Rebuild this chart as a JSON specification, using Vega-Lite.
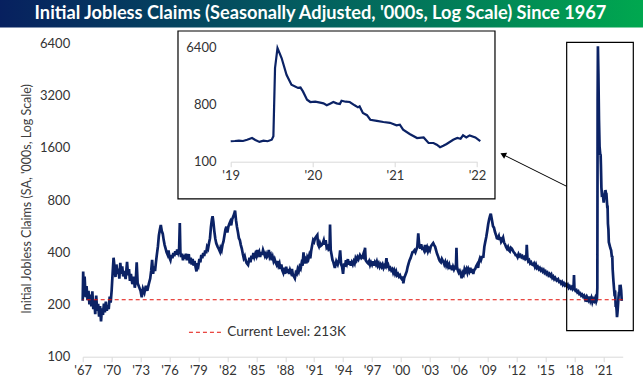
{
 "$schema": "https://vega.github.io/schema/vega-lite/v6.json",
 "width": 540,
 "height": 313.3,
 "autosize": {"type": "none"},
 "padding": {"left": 82.7, "top": 43.4, "right": 20.3, "bottom": 27.3},
 "background": "#ffffff",
 "config": {
  "view": {"stroke": null},
  "font": "Lato",
  "axis": {"grid": false, "labelFont": "Lato", "titleFont": "Lato", "labelFontSize": 13, "labelColor": "#333333", "labelFlush": false, "labelOverlap": false}
 },
 "datasets": {
  "main": [
{"t":1967.0,"v":210},{"t":1967.05,"v":310},{"t":1967.12,"v":235},{"t":1967.2,"v":290},{"t":1967.3,"v":220},{"t":1967.4,"v":255},{"t":1967.5,"v":212},{"t":1967.6,"v":240},{"t":1967.7,"v":200},{"t":1967.8,"v":228},{"t":1967.9,"v":195},
{"t":1968.0,"v":238},{"t":1968.1,"v":188},{"t":1968.2,"v":212},{"t":1968.3,"v":176},{"t":1968.4,"v":225},{"t":1968.5,"v":184},{"t":1968.6,"v":202},{"t":1968.7,"v":170},{"t":1968.8,"v":196},{"t":1968.9,"v":160},
{"t":1969.0,"v":190},{"t":1969.1,"v":174},{"t":1969.2,"v":202},{"t":1969.3,"v":180},{"t":1969.4,"v":208},{"t":1969.5,"v":184},{"t":1969.6,"v":198},{"t":1969.7,"v":188},{"t":1969.8,"v":222},{"t":1969.9,"v":205},
{"t":1970.0,"v":240},{"t":1970.1,"v":300},{"t":1970.2,"v":372},{"t":1970.3,"v":330},{"t":1970.4,"v":288},{"t":1970.5,"v":340},{"t":1970.6,"v":300},{"t":1970.7,"v":322},{"t":1970.8,"v":282},{"t":1970.9,"v":348},
{"t":1971.0,"v":300},{"t":1971.1,"v":332},{"t":1971.2,"v":290},{"t":1971.3,"v":312},{"t":1971.45,"v":280},{"t":1971.6,"v":352},{"t":1971.7,"v":295},{"t":1971.8,"v":320},{"t":1971.9,"v":274},
{"t":1972.0,"v":300},{"t":1972.15,"v":262},{"t":1972.3,"v":290},{"t":1972.4,"v":250},{"t":1972.5,"v":272},{"t":1972.6,"v":350},{"t":1972.7,"v":265},{"t":1972.85,"v":252},
{"t":1973.0,"v":240},{"t":1973.12,"v":220},{"t":1973.25,"v":246},{"t":1973.4,"v":234},{"t":1973.55,"v":256},{"t":1973.7,"v":240},{"t":1973.85,"v":262},
{"t":1974.0,"v":282},{"t":1974.1,"v":312},{"t":1974.2,"v":362},{"t":1974.3,"v":300},{"t":1974.4,"v":332},{"t":1974.5,"v":312},{"t":1974.6,"v":352},{"t":1974.7,"v":392},{"t":1974.8,"v":432},{"t":1974.9,"v":500},
{"t":1975.0,"v":540},{"t":1975.1,"v":575},{"t":1975.2,"v":530},{"t":1975.3,"v":512},{"t":1975.4,"v":470},{"t":1975.5,"v":440},{"t":1975.6,"v":420},{"t":1975.7,"v":400},{"t":1975.8,"v":388},{"t":1975.9,"v":410},
{"t":1976.0,"v":372},{"t":1976.1,"v":360},{"t":1976.2,"v":386},{"t":1976.3,"v":370},{"t":1976.4,"v":396},{"t":1976.5,"v":380},{"t":1976.6,"v":405},{"t":1976.7,"v":388},{"t":1976.8,"v":415},{"t":1976.9,"v":398},
{"t":1977.0,"v":420},{"t":1977.07,"v":590},{"t":1977.13,"v":400},{"t":1977.2,"v":375},{"t":1977.3,"v":392},{"t":1977.4,"v":360},{"t":1977.5,"v":386},{"t":1977.6,"v":368},{"t":1977.7,"v":392},{"t":1977.8,"v":360},{"t":1977.9,"v":376},
{"t":1978.0,"v":390},{"t":1978.1,"v":345},{"t":1978.2,"v":372},{"t":1978.3,"v":340},{"t":1978.4,"v":366},{"t":1978.5,"v":335},{"t":1978.6,"v":356},{"t":1978.7,"v":330},{"t":1978.8,"v":310},{"t":1978.9,"v":346},
{"t":1979.0,"v":335},{"t":1979.1,"v":366},{"t":1979.2,"v":350},{"t":1979.3,"v":386},{"t":1979.4,"v":370},{"t":1979.5,"v":396},{"t":1979.6,"v":380},{"t":1979.7,"v":410},{"t":1979.8,"v":395},{"t":1979.9,"v":430},
{"t":1980.0,"v":420},{"t":1980.1,"v":452},{"t":1980.2,"v":482},{"t":1980.3,"v":560},{"t":1980.4,"v":620},{"t":1980.47,"v":645},{"t":1980.55,"v":600},{"t":1980.65,"v":530},{"t":1980.75,"v":480},{"t":1980.85,"v":450},
{"t":1981.0,"v":430},{"t":1981.1,"v":420},{"t":1981.24,"v":403},{"t":1981.3,"v":422},{"t":1981.4,"v":410},{"t":1981.5,"v":442},{"t":1981.6,"v":462},{"t":1981.7,"v":500},{"t":1981.8,"v":540},{"t":1981.9,"v":562},
{"t":1982.0,"v":520},{"t":1982.1,"v":560},{"t":1982.2,"v":582},{"t":1982.3,"v":600},{"t":1982.4,"v":572},{"t":1982.5,"v":620},{"t":1982.6,"v":640},{"t":1982.7,"v":662},{"t":1982.8,"v":695},{"t":1982.9,"v":612},
{"t":1983.0,"v":560},{"t":1983.1,"v":522},{"t":1983.2,"v":482},{"t":1983.3,"v":470},{"t":1983.4,"v":440},{"t":1983.5,"v":420},{"t":1983.6,"v":392},{"t":1983.7,"v":370},{"t":1983.8,"v":380},{"t":1983.9,"v":360},
{"t":1984.0,"v":346},{"t":1984.15,"v":338},{"t":1984.3,"v":372},{"t":1984.4,"v":350},{"t":1984.5,"v":382},{"t":1984.6,"v":366},{"t":1984.7,"v":396},{"t":1984.8,"v":376},{"t":1984.9,"v":392},
{"t":1985.0,"v":380},{"t":1985.1,"v":412},{"t":1985.2,"v":390},{"t":1985.3,"v":402},{"t":1985.4,"v":376},{"t":1985.5,"v":402},{"t":1985.6,"v":386},{"t":1985.7,"v":412},{"t":1985.8,"v":396},{"t":1985.9,"v":380},
{"t":1986.0,"v":392},{"t":1986.1,"v":375},{"t":1986.2,"v":382},{"t":1986.3,"v":412},{"t":1986.4,"v":376},{"t":1986.5,"v":386},{"t":1986.6,"v":360},{"t":1986.7,"v":376},{"t":1986.8,"v":355},{"t":1986.9,"v":366},
{"t":1987.0,"v":350},{"t":1987.1,"v":340},{"t":1987.2,"v":356},{"t":1987.3,"v":335},{"t":1987.4,"v":346},{"t":1987.5,"v":320},{"t":1987.6,"v":340},{"t":1987.7,"v":315},{"t":1987.8,"v":305},{"t":1987.9,"v":326},
{"t":1988.0,"v":300},{"t":1988.1,"v":330},{"t":1988.2,"v":305},{"t":1988.3,"v":320},{"t":1988.4,"v":300},{"t":1988.5,"v":316},{"t":1988.6,"v":305},{"t":1988.7,"v":320},{"t":1988.8,"v":295},{"t":1988.9,"v":290},
{"t":1989.0,"v":283},{"t":1989.1,"v":305},{"t":1989.2,"v":300},{"t":1989.3,"v":320},{"t":1989.4,"v":310},{"t":1989.5,"v":330},{"t":1989.6,"v":322},{"t":1989.7,"v":345},{"t":1989.8,"v":335},{"t":1989.9,"v":400},{"t":1989.97,"v":345},
{"t":1990.1,"v":362},{"t":1990.2,"v":345},{"t":1990.3,"v":375},{"t":1990.4,"v":365},{"t":1990.5,"v":385},{"t":1990.6,"v":369},{"t":1990.7,"v":410},{"t":1990.8,"v":440},{"t":1990.9,"v":470},
{"t":1991.0,"v":460},{"t":1991.1,"v":482},{"t":1991.2,"v":492},{"t":1991.33,"v":503},{"t":1991.4,"v":445},{"t":1991.5,"v":432},{"t":1991.6,"v":452},{"t":1991.7,"v":436},{"t":1991.8,"v":441},{"t":1991.9,"v":452},
{"t":1992.0,"v":470},{"t":1992.1,"v":442},{"t":1992.2,"v":470},{"t":1992.3,"v":425},{"t":1992.4,"v":432},{"t":1992.5,"v":415},{"t":1992.6,"v":420},{"t":1992.65,"v":578},{"t":1992.72,"v":412},{"t":1992.8,"v":390},{"t":1992.9,"v":362},
{"t":1993.0,"v":350},{"t":1993.15,"v":325},{"t":1993.3,"v":355},{"t":1993.45,"v":340},{"t":1993.6,"v":365},{"t":1993.7,"v":410},{"t":1993.8,"v":340},{"t":1993.9,"v":330},
{"t":1994.0,"v":300},{"t":1994.1,"v":345},{"t":1994.2,"v":330},{"t":1994.3,"v":360},{"t":1994.4,"v":345},{"t":1994.5,"v":365},{"t":1994.6,"v":340},{"t":1994.7,"v":355},{"t":1994.8,"v":335},{"t":1994.9,"v":350},
{"t":1995.0,"v":340},{"t":1995.1,"v":355},{"t":1995.2,"v":345},{"t":1995.3,"v":370},{"t":1995.4,"v":360},{"t":1995.5,"v":375},{"t":1995.6,"v":365},{"t":1995.75,"v":385},{"t":1995.9,"v":370},
{"t":1996.0,"v":375},{"t":1996.1,"v":390},{"t":1996.2,"v":365},{"t":1996.28,"v":425},{"t":1996.35,"v":360},{"t":1996.5,"v":350},{"t":1996.6,"v":345},{"t":1996.7,"v":355},{"t":1996.8,"v":338},{"t":1996.9,"v":350},
{"t":1997.0,"v":340},{"t":1997.1,"v":355},{"t":1997.2,"v":335},{"t":1997.3,"v":350},{"t":1997.4,"v":340},{"t":1997.5,"v":353},{"t":1997.6,"v":335},{"t":1997.7,"v":345},{"t":1997.8,"v":330},{"t":1997.9,"v":340},
{"t":1998.0,"v":330},{"t":1998.1,"v":340},{"t":1998.2,"v":325},{"t":1998.3,"v":335},{"t":1998.4,"v":330},{"t":1998.5,"v":370},{"t":1998.6,"v":325},{"t":1998.7,"v":335},{"t":1998.8,"v":320},{"t":1998.9,"v":325},
{"t":1999.0,"v":315},{"t":1999.1,"v":320},{"t":1999.2,"v":305},{"t":1999.3,"v":315},{"t":1999.4,"v":300},{"t":1999.5,"v":310},{"t":1999.6,"v":295},{"t":1999.7,"v":300},{"t":1999.8,"v":290},{"t":1999.9,"v":295},
{"t":2000.0,"v":285},{"t":2000.1,"v":280},{"t":2000.2,"v":290},{"t":2000.25,"v":265},{"t":2000.35,"v":285},{"t":2000.5,"v":300},{"t":2000.6,"v":310},{"t":2000.7,"v":330},{"t":2000.8,"v":345},{"t":2000.9,"v":360},
{"t":2001.0,"v":370},{"t":2001.1,"v":385},{"t":2001.2,"v":400},{"t":2001.3,"v":403},{"t":2001.4,"v":410},{"t":2001.5,"v":400},{"t":2001.6,"v":415},{"t":2001.7,"v":430},{"t":2001.8,"v":515},{"t":2001.88,"v":450},
{"t":2002.0,"v":420},{"t":2002.1,"v":445},{"t":2002.2,"v":420},{"t":2002.3,"v":422},{"t":2002.4,"v":410},{"t":2002.5,"v":440},{"t":2002.6,"v":415},{"t":2002.7,"v":428},{"t":2002.8,"v":405},{"t":2002.9,"v":420},
{"t":2003.0,"v":410},{"t":2003.1,"v":432},{"t":2003.2,"v":440},{"t":2003.35,"v":452},{"t":2003.45,"v":440},{"t":2003.55,"v":430},{"t":2003.65,"v":410},{"t":2003.75,"v":392},{"t":2003.85,"v":380},{"t":2003.95,"v":365},
{"t":2004.05,"v":355},{"t":2004.15,"v":350},{"t":2004.25,"v":366},{"t":2004.4,"v":353},{"t":2004.5,"v":340},{"t":2004.6,"v":352},{"t":2004.7,"v":335},{"t":2004.8,"v":346},{"t":2004.9,"v":330},
{"t":2005.0,"v":340},{"t":2005.1,"v":320},{"t":2005.2,"v":335},{"t":2005.3,"v":315},{"t":2005.4,"v":330},{"t":2005.5,"v":318},{"t":2005.6,"v":328},{"t":2005.7,"v":318},{"t":2005.76,"v":425},{"t":2005.82,"v":330},{"t":2005.9,"v":315},
{"t":2006.0,"v":305},{"t":2006.1,"v":312},{"t":2006.2,"v":300},{"t":2006.3,"v":283},{"t":2006.4,"v":305},{"t":2006.5,"v":298},{"t":2006.6,"v":320},{"t":2006.7,"v":310},{"t":2006.8,"v":320},{"t":2006.9,"v":305},
{"t":2007.0,"v":320},{"t":2007.1,"v":310},{"t":2007.2,"v":326},{"t":2007.3,"v":305},{"t":2007.4,"v":320},{"t":2007.5,"v":300},{"t":2007.6,"v":316},{"t":2007.7,"v":320},{"t":2007.8,"v":332},{"t":2007.9,"v":340},
{"t":2008.0,"v":325},{"t":2008.1,"v":355},{"t":2008.2,"v":370},{"t":2008.3,"v":360},{"t":2008.4,"v":376},{"t":2008.55,"v":377},{"t":2008.65,"v":430},{"t":2008.75,"v":460},{"t":2008.85,"v":490},{"t":2008.95,"v":530},
{"t":2009.05,"v":580},{"t":2009.15,"v":620},{"t":2009.25,"v":650},{"t":2009.32,"v":668},{"t":2009.4,"v":630},{"t":2009.47,"v":600},{"t":2009.55,"v":565},{"t":2009.65,"v":555},{"t":2009.75,"v":525},{"t":2009.85,"v":505},{"t":2009.95,"v":482},
{"t":2010.05,"v":480},{"t":2010.15,"v":495},{"t":2010.22,"v":470},{"t":2010.3,"v":490},{"t":2010.4,"v":460},{"t":2010.5,"v":470},{"t":2010.6,"v":485},{"t":2010.7,"v":455},{"t":2010.8,"v":445},{"t":2010.9,"v":430},
{"t":2011.0,"v":420},{"t":2011.1,"v":430},{"t":2011.2,"v":410},{"t":2011.3,"v":405},{"t":2011.4,"v":425},{"t":2011.5,"v":420},{"t":2011.6,"v":410},{"t":2011.7,"v":400},{"t":2011.8,"v":395},{"t":2011.9,"v":385},
{"t":2012.0,"v":385},{"t":2012.1,"v":375},{"t":2012.2,"v":390},{"t":2012.3,"v":380},{"t":2012.4,"v":385},{"t":2012.5,"v":375},{"t":2012.6,"v":380},{"t":2012.7,"v":370},{"t":2012.8,"v":375},{"t":2012.9,"v":365},
{"t":2013.0,"v":370},{"t":2013.05,"v":441},{"t":2013.12,"v":370},{"t":2013.2,"v":355},{"t":2013.3,"v":360},{"t":2013.4,"v":345},{"t":2013.5,"v":350},{"t":2013.6,"v":340},{"t":2013.7,"v":338},{"t":2013.8,"v":345},{"t":2013.9,"v":330},
{"t":2014.0,"v":340},{"t":2014.1,"v":325},{"t":2014.2,"v":330},{"t":2014.3,"v":320},{"t":2014.4,"v":325},{"t":2014.5,"v":315},{"t":2014.6,"v":320},{"t":2014.7,"v":310},{"t":2014.8,"v":316},{"t":2014.9,"v":305},
{"t":2015.0,"v":310},{"t":2015.1,"v":300},{"t":2015.2,"v":305},{"t":2015.3,"v":295},{"t":2015.4,"v":300},{"t":2015.5,"v":292},{"t":2015.6,"v":298},{"t":2015.7,"v":285},{"t":2015.8,"v":290},{"t":2015.9,"v":280},
{"t":2016.0,"v":285},{"t":2016.15,"v":275},{"t":2016.3,"v":280},{"t":2016.4,"v":270},{"t":2016.5,"v":272},{"t":2016.6,"v":265},{"t":2016.7,"v":270},{"t":2016.8,"v":260},{"t":2016.9,"v":265},
{"t":2017.0,"v":258},{"t":2017.1,"v":262},{"t":2017.2,"v":255},{"t":2017.3,"v":260},{"t":2017.4,"v":250},{"t":2017.5,"v":255},{"t":2017.6,"v":248},{"t":2017.7,"v":252},{"t":2017.8,"v":245},{"t":2017.9,"v":250},{"t":2017.95,"v":296},
{"t":2018.0,"v":245},{"t":2018.1,"v":240},{"t":2018.2,"v":242},{"t":2018.3,"v":235},{"t":2018.4,"v":238},{"t":2018.5,"v":230},{"t":2018.6,"v":232},{"t":2018.7,"v":225},{"t":2018.8,"v":228},{"t":2018.9,"v":222},
{"t":2019.0,"v":225},{"t":2019.1,"v":215},{"t":2019.2,"v":220},{"t":2019.27,"v":207},{"t":2019.35,"v":218},{"t":2019.45,"v":212},{"t":2019.55,"v":222},{"t":2019.65,"v":210},{"t":2019.75,"v":218},{"t":2019.85,"v":206},{"t":2019.95,"v":215},
{"t":2020.05,"v":210},{"t":2020.15,"v":218},{"t":2020.25,"v":208},{"t":2020.33,"v":215},{"t":2020.37,"v":250},{"t":2020.40,"v":2990},{"t":2020.43,"v":6170},{"t":2020.48,"v":4290},{"t":2020.54,"v":2340},{"t":2020.60,"v":1630},
{"t":2020.68,"v":1450},{"t":2020.71,"v":1470},{"t":2020.74,"v":1280},{"t":2020.79,"v":947},{"t":2020.83,"v":871},{"t":2020.89,"v":880},{"t":2020.95,"v":850},
{"t":2021.03,"v":773},{"t":2021.07,"v":820},{"t":2021.11,"v":871},{"t":2021.19,"v":810},{"t":2021.21,"v":913},{"t":2021.26,"v":880},{"t":2021.31,"v":871},{"t":2021.37,"v":773},{"t":2021.41,"v":718},{"t":2021.43,"v":743},{"t":2021.47,"v":584},
{"t":2021.52,"v":540},{"t":2021.56,"v":458},{"t":2021.64,"v":440},{"t":2021.72,"v":422},{"t":2021.80,"v":410},{"t":2021.88,"v":374},{"t":2021.92,"v":382},{"t":2021.96,"v":319},
{"t":2022.04,"v":273},{"t":2022.13,"v":236},{"t":2022.21,"v":241},{"t":2022.27,"v":197},{"t":2022.33,"v":197},{"t":2022.37,"v":185},{"t":2022.41,"v":169},{"t":2022.45,"v":178},{"t":2022.49,"v":190},
{"t":2022.57,"v":222},{"t":2022.62,"v":236},{"t":2022.66,"v":230},{"t":2022.69,"v":260},{"t":2022.73,"v":241},{"t":2022.77,"v":260},{"t":2022.84,"v":241},{"t":2022.90,"v":210}
  ],
  "inset": [
{"t":2019.0,"v":210},{"t":2019.05,"v":212},{"t":2019.1,"v":215},{"t":2019.15,"v":212},{"t":2019.2,"v":222},{"t":2019.26,"v":236},{"t":2019.3,"v":220},{"t":2019.35,"v":205},{"t":2019.4,"v":215},{"t":2019.45,"v":210},{"t":2019.5,"v":222},{"t":2019.52,"v":251},
{"t":2019.54,"v":2990},{"t":2019.57,"v":6170},{"t":2019.62,"v":4290},{"t":2019.68,"v":2340},{"t":2019.74,"v":1630},{"t":2019.82,"v":1450},{"t":2019.85,"v":1470},{"t":2019.88,"v":1280},{"t":2019.93,"v":947},{"t":2019.97,"v":871},
{"t":2020.03,"v":880},{"t":2020.09,"v":850},{"t":2020.13,"v":830},{"t":2020.17,"v":773},{"t":2020.21,"v":820},{"t":2020.25,"v":871},{"t":2020.29,"v":830},{"t":2020.33,"v":810},{"t":2020.35,"v":913},{"t":2020.4,"v":880},{"t":2020.45,"v":871},
{"t":2020.51,"v":773},{"t":2020.55,"v":718},{"t":2020.57,"v":743},{"t":2020.61,"v":584},{"t":2020.66,"v":540},{"t":2020.70,"v":458},{"t":2020.78,"v":440},{"t":2020.86,"v":422},{"t":2020.94,"v":410},
{"t":2021.02,"v":374},{"t":2021.06,"v":382},{"t":2021.1,"v":319},{"t":2021.18,"v":273},{"t":2021.27,"v":236},{"t":2021.35,"v":241},{"t":2021.41,"v":197},{"t":2021.47,"v":197},{"t":2021.51,"v":185},{"t":2021.55,"v":169},{"t":2021.59,"v":178},
{"t":2021.63,"v":190},{"t":2021.71,"v":222},{"t":2021.76,"v":236},{"t":2021.8,"v":230},{"t":2021.83,"v":260},{"t":2021.87,"v":241},{"t":2021.91,"v":260},{"t":2021.98,"v":241},{"t":2022.04,"v":210}
  ]
 },
 "layer": [
  {
   "data": {"name": "main"},
   "mark": {"type": "line", "color": "#0b2265", "strokeWidth": 2.7},
   "encoding": {
    "x": {"field": "t", "type": "quantitative", "scale": {"domain": [1967, 2023], "nice": false, "zero": false},
     "axis": {"values": [1967,1970,1973,1976,1979,1982,1985,1988,1991,1994,1997,2000,2003,2006,2009,2012,2015,2018,2021], "format": "d", "labelExpr": "\"'\" + substring(datum.label, 2)", "title": null, "domainColor": "#d9d9d9", "tickColor": "#d9d9d9", "tickSize": 5, "labelPadding": 3, "labelOverlap": false, "labelFlush": false}},
    "y": {"field": "v", "type": "quantitative", "scale": {"type": "log", "domain": [100, 6400], "nice": false},
     "axis": {"values": [100,200,400,800,1600,3200,6400], "format": "d", "domain": false, "ticks": false, "labelPadding": 13, "labelOverlap": false, "labelFlush": false, "title": "Initial Jobless Claims (SA, '000s, Log Scale)", "titleFontSize": 12.5, "titleFontWeight": "normal", "titleColor": "#404040", "titlePadding": 6, "titleY": 155, "titleLimit": 1000}}
   }
  },
  {
   "layer": [
    {
     "data": {"values": [{}]},
     "mark": {"type": "rect", "fill": {"gradient": "linear", "stops": [{"offset": 0, "color": "#07205f"}, {"offset": 0.5, "color": "#03605f"}, {"offset": 1, "color": "#00a84f"}]}},
     "encoding": {
      "x": {"datum": 1958.3, "type": "quantitative", "scale": {"domain": [1967, 2023], "nice": false, "zero": false}, "axis": null},
      "x2": {"datum": 2025.2},
      "y": {"datum": 11600, "type": "quantitative", "scale": {"type": "log", "domain": [100, 6400], "nice": false}, "axis": null},
      "y2": {"datum": 7900}
     }
    },
    {
     "data": {"values": [{}]},
     "mark": {"type": "text", "text": "Initial Jobless Claims (Seasonally Adjusted, '000s, Log Scale) Since 1967", "font": "Lato", "fontSize": 18.2, "fontWeight": "bold", "color": "#ffffff", "align": "center", "baseline": "middle"},
     "encoding": {
      "x": {"datum": 1991.66, "axis": null},
      "y": {"datum": 9500, "axis": null}
     }
    },
    {
     "data": {"values": [{}]},
     "mark": {"type": "rule", "color": "#e3120b", "strokeDash": [4, 3], "strokeWidth": 1},
     "encoding": {"y": {"datum": 213, "axis": null}}
    },
    {
     "data": {"values": [{}]},
     "mark": {"type": "rule", "color": "#e3120b", "strokeDash": [4, 3], "strokeWidth": 1},
     "encoding": {
      "x": {"datum": 1978.02, "axis": null},
      "x2": {"datum": 1981.58},
      "y": {"datum": 138.3, "axis": null}
     }
    },
    {
     "data": {"values": [{}]},
     "mark": {"type": "text", "text": "Current Level: 213K", "font": "Lato", "fontSize": 13.5, "color": "#333333", "align": "left", "baseline": "middle"},
     "encoding": {
      "x": {"datum": 1982.0, "axis": null},
      "y": {"datum": 138.3, "axis": null}
     }
    },
    {
     "data": {"values": [{}]},
     "mark": {"type": "rect", "fill": "transparent", "stroke": "#000000", "strokeWidth": 1.2},
     "encoding": {
      "x": {"datum": 2017.19, "axis": null},
      "x2": {"datum": 2024.1},
      "y": {"datum": 6494, "axis": null},
      "y2": {"datum": 141.3}
     }
    },
    {
     "data": {"values": [{}]},
     "mark": {"type": "rule", "color": "#000000", "strokeWidth": 1},
     "encoding": {
      "x": {"datum": 2017.19, "axis": null},
      "x2": {"datum": 2010.62},
      "y": {"datum": 960, "axis": null},
      "y2": {"datum": 1460}
     }
    },
    {
     "data": {"values": [{}]},
     "mark": {"type": "point", "shape": "triangle-up", "filled": true, "color": "#000000", "opacity": 1, "size": 45, "angle": 296.6},
     "encoding": {
      "x": {"datum": 2010.59, "axis": null},
      "y": {"datum": 1464, "axis": null}
     }
    }
   ]
  },
  {
   "data": {"values": [{}]},
   "mark": {"type": "rect", "fill": "#ffffff", "stroke": "#000000", "strokeWidth": 1.2},
   "encoding": {
    "x": {"datum": 2018.358, "type": "quantitative", "scale": {"domain": [2019, 2022], "range": [148, 394.3], "nice": false, "zero": false}, "axis": null},
    "x2": {"datum": 2022.219},
    "y": {"datum": 11430, "type": "quantitative", "scale": {"type": "log", "domain": [100, 6400], "range": [118.3, 3.6], "nice": false}, "axis": null},
    "y2": {"datum": 25.9}
   }
  },
  {
   "data": {"name": "inset"},
   "mark": {"type": "line", "color": "#0b2265", "strokeWidth": 2.2},
   "encoding": {
    "x": {"field": "t", "type": "quantitative", "scale": {"domain": [2019, 2022], "range": [148, 394.3], "nice": false, "zero": false},
     "axis": {"orient": "bottom", "offset": -195, "values": [2019, 2020, 2021, 2022], "format": "d", "labelExpr": "\"'\" + substring(datum.label, 2)", "title": null, "domainColor": "#d9d9d9", "tickColor": "#d9d9d9", "tickSize": 5, "labelPadding": 3, "zindex": 1, "labelOverlap": false, "labelFlush": false}},
    "y": {"field": "v", "type": "quantitative", "scale": {"type": "log", "domain": [100, 6400], "range": [118.3, 3.6], "nice": false},
     "axis": {"orient": "left", "offset": -148, "values": [100, 800, 6400], "format": "d", "domain": false, "ticks": false, "labelPadding": 14.7, "title": null, "zindex": 1, "labelOverlap": false, "labelFlush": false}}
   }
  }
 ],
 "resolve": {"scale": {"x": "independent", "y": "independent"}}
}
